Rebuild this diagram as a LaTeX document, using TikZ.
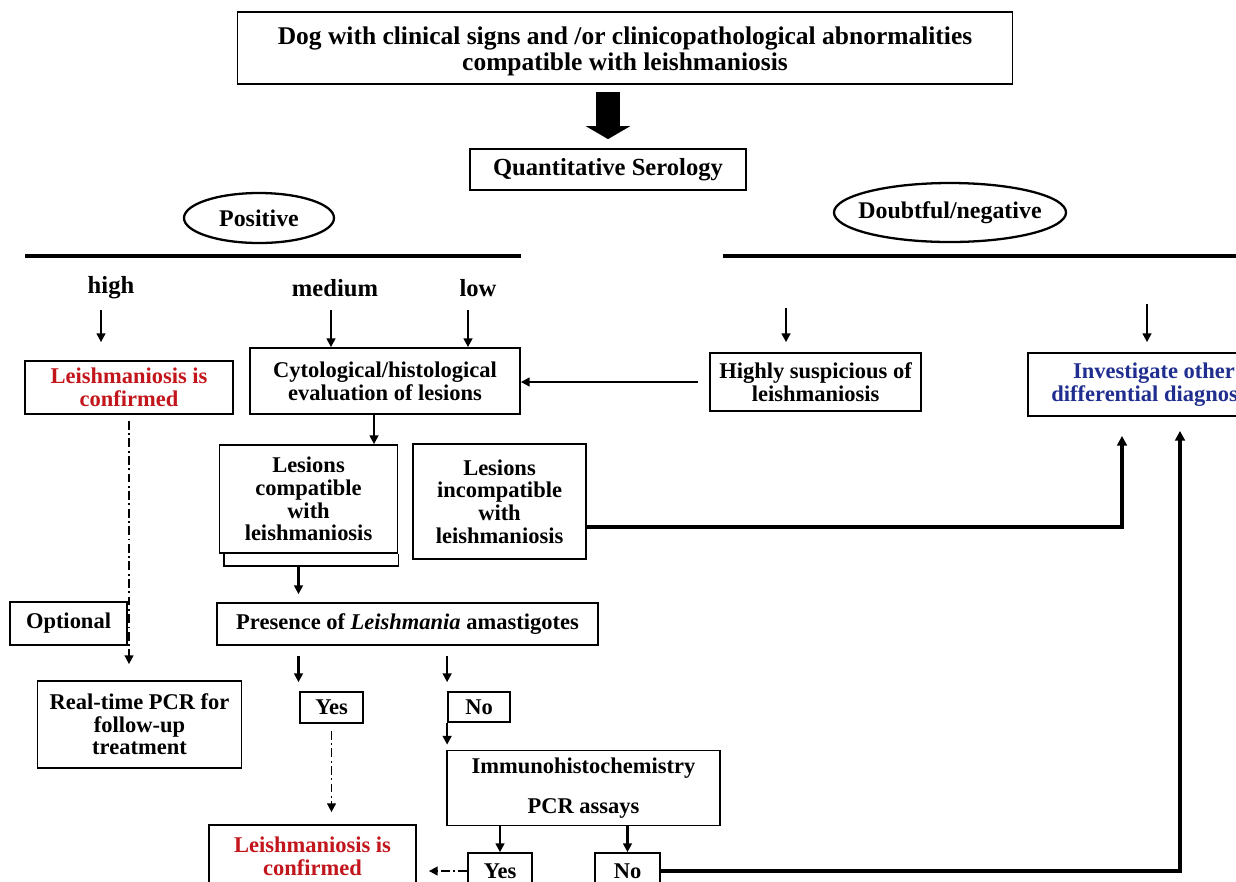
\documentclass[tikz,border=0pt]{standalone}
\usepackage{fontspec}
\setmainfont{Liberation Serif}
\usepackage{tikz}
\usetikzlibrary{arrows.meta, positioning, calc, shapes.geometric}
\definecolor{confRed}{HTML}{C3161C}
\definecolor{diffBlue}{HTML}{1F2E8F}

\begin{document}
\begin{tikzpicture}[x=0.2mm, y=-0.2mm,
  every node/.style={font=\fontsize{12.8}{12.9}\selectfont\bfseries},
  box/.style={draw, line width=1pt, align=center, inner sep=2pt},
  wh/.style 2 args={minimum width=#1*0.2mm, minimum height=#2*0.2mm},
  bigtext/.style={font=\fontsize{14.5}{14.8}\selectfont\bfseries},
  oval/.style={font=\fontsize{13.6}{14}\selectfont\bfseries, inner sep=0pt},
  ovalline/.style={line width=1.3pt},
  tip/.style={-{Triangle[length=5pt,width=5pt]}, line width=1.2pt},
  dashtip/.style={-{Triangle[length=5pt,width=5pt]}, line width=1pt,
    dash pattern=on 5pt off 2pt on 1pt off 2pt},
  rail/.style={line width=1.8pt},
  railtip/.style={-{Triangle[length=5.5pt,width=5.5pt]}, line width=1.8pt},
  bigarrow/.style={-{Triangle[length=2.6mm,width=8.8mm]}, line width=4.8mm}]
  \useasboundingbox (0,0) rectangle (1236,881);
  \clip (0,0) rectangle (1236,881);

  % top of the chart
  \node[box, bigtext, wh={775}{72}] (dog) at (625,48)
    {\rule{0pt}{14pt}Dog with clinical signs and /or clinicopathological abnormalities\\compatible with leishmaniosis};
  \node[box, font=\fontsize{14}{15}\selectfont\bfseries, wh={276}{41}] (sero) at (608,169.5) {Quantitative Serology};
  \draw[bigarrow, shorten <=1.4mm, shorten >=1.8mm] (dog.south -| sero.north) -- (sero.north);

  \node[oval] (pos) at (259,218) {Positive};
  \draw[ovalline] (pos) ellipse [x radius=15mm, y radius=5mm];
  \node[oval] (neg) at (950,212.5) {Doubtful/negative};
  \draw[ovalline] (neg) ellipse [x radius=23.2mm, y radius=5.9mm];
  \draw[rail] (25,256) -- (521,256);
  \draw[rail] (723,256) -- (1236,256);

  \node[font=\fontsize{14}{15}\selectfont\bfseries] (high) at (111,288) {high};
  \node[font=\fontsize{14}{15}\selectfont\bfseries] (medium) at (335,288) {medium};
  \node[font=\fontsize{14}{15}\selectfont\bfseries] (low) at (478,288) {low};

  % second row
  \node[box, text=confRed, wh={208}{53}] (conf) at (129,387.5) {Leishmaniosis is\\confirmed};
  \node[box, wh={270}{66}] (cyto) at (385,381) {Cytological/histological\\evaluation of lesions};
  \node[box, wh={211}{58}] (susp) at (815.5,382) {Highly suspicious of\\leishmaniosis};
  \node[box, text=diffBlue, wh={252}{63}] (inv) at (1154,384.5) {Investigate other\\differential diagnoses};

  \coordinate (hiTop) at (101,310);
  \coordinate (medTop) at (331,310);
  \coordinate (lowTop) at (468,310);
  \coordinate (suspTop) at (786,308);
  \coordinate (invTop) at (1147,304);
  \draw[tip, shorten >=3.6mm] (hiTop) -- (hiTop |- conf.north);
  \draw[tip] (medTop) -- (medTop |- cyto.north);
  \draw[tip] (lowTop) -- (lowTop |- cyto.north);
  \draw[tip, shorten >=2mm] (suspTop) -- (suspTop |- susp.north);
  \draw[tip, shorten >=2mm] (invTop) -- (invTop |- inv.north);
  \draw[tip, shorten <=2.2mm] (susp.west) -- (susp.west -| cyto.east);

  % lesions
  \node[box, wh={173}{115}] (incomp) at (499.5,501.5) {Lesions\\incompatible\\with\\leishmaniosis};
  \node[box, fill=white, wh={178}{108}] (compat) at (308.5,499) {Lesions\\compatible\\with\\leishmaniosis};
  \draw[line width=1pt] ($(compat.south west)+(5,0)$) |- ($(compat.south east)+(0,12)$) -- (compat.south east);
  \coordinate (cytoOut) at ($(cyto.south)+(-11,0)$);
  \draw[tip] (cytoOut) -- (cytoOut |- compat.north);

  \coordinate (incompOut) at ($(incomp.east)+(0,25.5)$);
  \coordinate (invInA) at ($(inv.south)+(-32,0)$);
  \draw[railtip, shorten >=3.8mm] (incompOut) -| (invInA);

  % amastigotes
  \node[box, wh={117}{43}] (opt) at (68.5,623.5) {Optional};
  \node[box, wh={381}{42}] (pres) at (407.5,624) {Presence of \textit{Leishmania} amastigotes};
  \node[box, wh={204}{87}] (pcr) at (139.5,724.5) {Real-time PCR for\\follow-up\\treatment};
  \node[box, wh={63}{31}] (yes) at (331.5,707.5) {Yes};
  \node[box, wh={62}{30}] (no) at (479,707) {No};

  \coordinate (compatOut) at ($(compat.south)+(-10,12)$);
  \draw[tip, shorten >=1.6mm] (compatOut) -- (compatOut |- pres.north);
  \draw[dashtip, shorten <=1.2mm, shorten >=3.2mm] (conf.south) -- (conf.south |- pcr.north);
  \draw[tip, shorten <=2mm, shorten >=1.8mm] (pres.south -| compatOut) -- (compatOut |- yes.north);
  \draw[tip, shorten <=2mm, shorten >=1.8mm] (pres.south -| no.west) -- (no.north west);

  % bottom
  \node[box, wh={273}{75}] (immuno) at (583.5,788) {Immunohistochemistry\\[10pt]PCR assays};
  \node[box, text=confRed, wh={207}{62}] (conf2) at (312.5,856) {Leishmaniosis is\\confirmed};
  \node[box, wh={64}{36}] (yes2) at (500,871) {Yes};
  \node[box, wh={65}{36}] (no2) at (627.5,871) {No};

  \draw[tip, shorten >=1mm] (no.south west) -- (no.south west |- immuno.north);
  \draw[dashtip, shorten <=1.4mm, shorten >=2.4mm] (yes.south) -- (yes.south |- conf2.north);
  \draw[tip] (immuno.south -| yes2.north) -- (yes2.north);
  \draw[tip] (immuno.south -| no2.north) -- (no2.north);
  \draw[dashtip, shorten >=2.4mm] (yes2.west) -- (yes2.west -| conf2.east);

  \coordinate (invInB) at ($(inv.south)+(26,0)$);
  \draw[railtip, shorten >=2.8mm] (no2.east) -| (invInB);
\end{tikzpicture}
\end{document}
